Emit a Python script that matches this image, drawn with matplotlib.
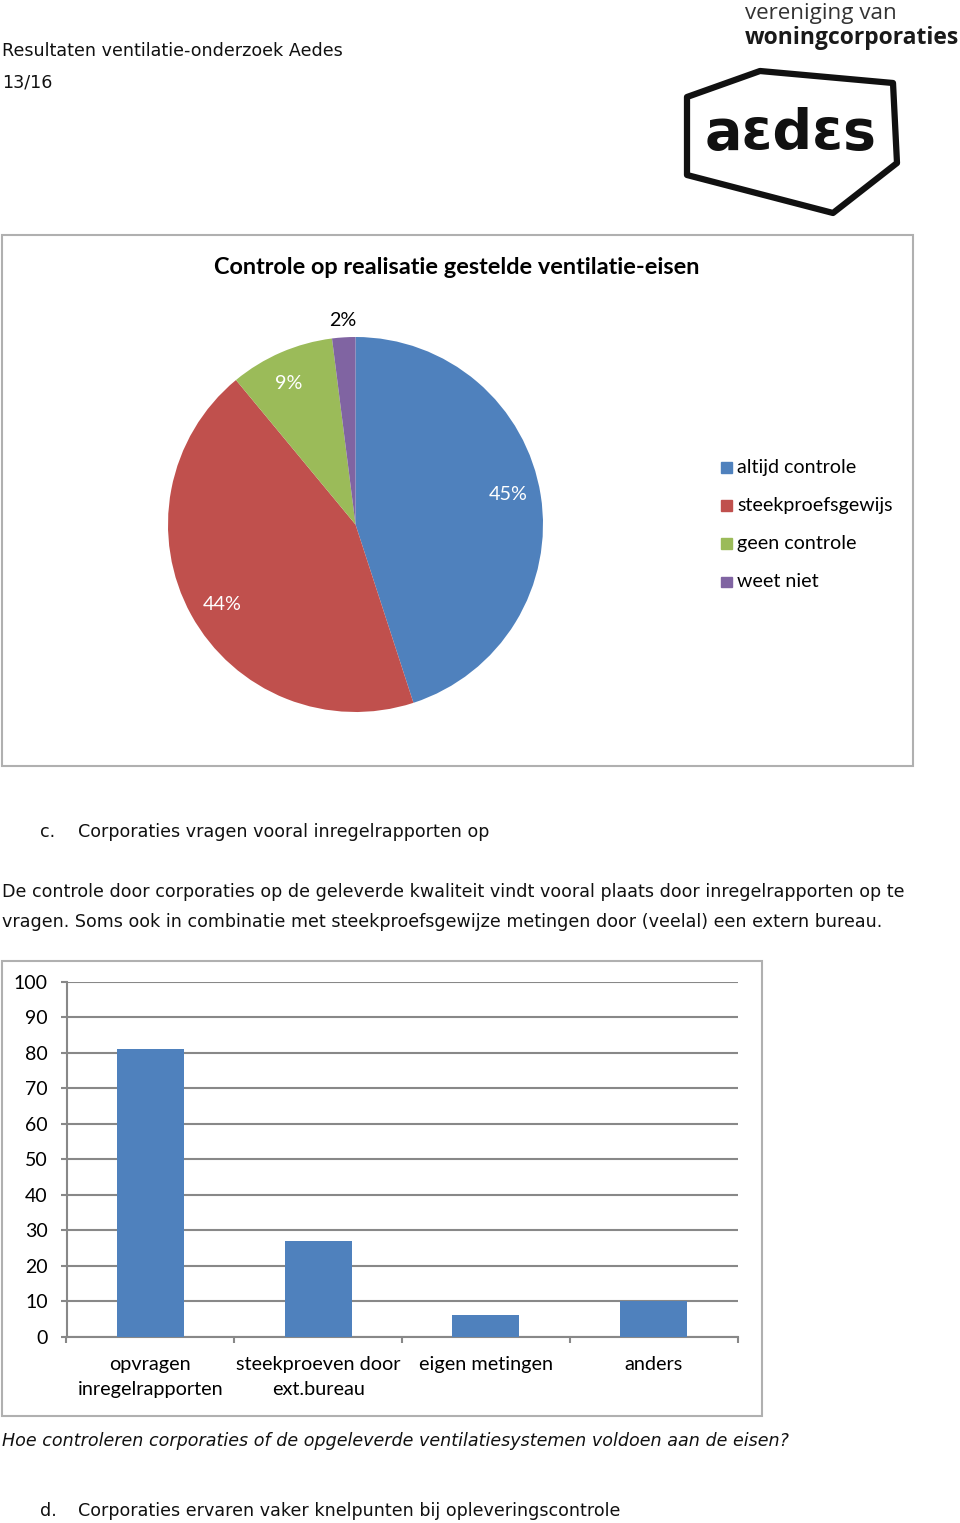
import math
import matplotlib
matplotlib.use("Agg")
import matplotlib.pyplot as plt
from matplotlib.patches import Rectangle, Polygon

# ---------------- data ----------------
pie_labels = ["altijd controle", "steekproefsgewijs", "geen controle", "weet niet"]
pie_values = [45, 44, 9, 2]
pie_colors = ["#4F81BD", "#C0504D", "#9BBB59", "#8064A2"]

bar_categories = ["opvragen\ninregelrapporten", "steekproeven door\next.bureau",
                  "eigen metingen", "anders"]
bar_values = [81, 27, 6, 10]
bar_yticks = [0, 10, 20, 30, 40, 50, 60, 70, 80, 90, 100]

W, H = 960, 1523
fig = plt.figure(figsize=(W / 100, H / 100), dpi=100)
fig.patch.set_facecolor("white")

page = fig.add_axes([0, 0, 1, 1])
page.set_xlim(0, W)
page.set_ylim(H, 0)
page.axis("off")

def rect_px(l, t, r, b):
    return [l / W, (H - b) / H, (r - l) / W, (b - t) / H]

BODY = "DejaVu Sans"
CAL = "Lato"
FS = 12.6
TXT = "#111111"

# header
page.text(2, 50.5, "Resultaten ventilatie-onderzoek Aedes", fontsize=FS, family=BODY,
          va="center", ha="left", color=TXT)
page.text(2, 82.5, "13/16", fontsize=FS, family=BODY, va="center", ha="left", color=TXT)

# logo
page.text(745, 13, "vereniging van", fontsize=16.1, family="Open Sans", va="center",
          ha="left", color="#333333")
page.text(745, 38, "woningcorporaties", fontsize=16.5, family="Open Sans", weight="bold",
          va="center", ha="left", color="#1a1a1a")
page.add_patch(Polygon([(687, 97), (760, 71), (893, 83), (897, 163), (833, 213), (687, 175)],
                       closed=True, fill=False, ec="#111111", lw=4.5, joinstyle="round"))
page.text(791, 134, "aεdεs", fontsize=40, family="DejaVu Sans", weight="bold",
          va="center", ha="center", color="#111111")

# pie box
page.add_patch(Rectangle((1.5, 234.5), 911, 531, fill=False, ec="#b0b0b0", lw=1.5))
page.text(457, 267, "Controle op realisatie gestelde ventilatie-eisen", fontsize=16.9,
          family=CAL, weight="bold", va="center", ha="center", color="black")

cx, cy, R = 355.5, 524.5, 187.5
pax = fig.add_axes(rect_px(cx - R, cy - R, cx + R, cy + R))
wedges, texts, autotexts = pax.pie(pie_values, colors=pie_colors, startangle=90,
                                   counterclock=False, autopct="%d%%", pctdistance=0.83,
                                   wedgeprops=dict(linewidth=0),
                                   textprops=dict(fontsize=14.2, family=CAL, color="white"))
# inside labels sit slightly counter-clockwise of the slice middle in the reference
rot = math.radians(2.0)
for i, t in enumerate(autotexts):
    px, py = t.get_position()
    if i == 3:
        t.set_position((px * 1.09 / 0.83, py * 1.09 / 0.83))
        continue
    t.set_position((px * math.cos(rot) - py * math.sin(rot),
                    px * math.sin(rot) + py * math.cos(rot)))
autotexts[3].set_color("black")
pax.set_xlim(-1, 1)
pax.set_ylim(-1, 1)
pax.set_aspect("equal")

# pie legend
for i, (lab, col) in enumerate(zip(pie_labels, pie_colors)):
    y = 467 + 38.2 * i
    page.add_patch(Rectangle((721, y - 5), 10.5, 10.5, color=col))
    page.text(737, y, lab, fontsize=14.1, family=CAL, va="center", ha="left", color="black")

# text
page.text(40, 831.5, "c.", fontsize=FS, family=BODY, va="center", ha="left", color=TXT)
page.text(78, 831.5, "Corporaties vragen vooral inregelrapporten op", fontsize=FS, family=BODY,
          va="center", ha="left", color=TXT)
page.text(2, 891.5, "De controle door corporaties op de geleverde kwaliteit vindt vooral plaats door inregelrapporten op te",
          fontsize=FS, family=BODY, va="center", ha="left", color=TXT)
page.text(2, 921.5, "vragen. Soms ook in combinatie met steekproefsgewijze metingen door (veelal) een extern bureau.",
          fontsize=FS, family=BODY, va="center", ha="left", color=TXT)

# bar box
page.add_patch(Rectangle((1.5, 960.5), 760, 455, fill=False, ec="#b0b0b0", lw=1.5))

bax = fig.add_axes(rect_px(66.5, 982, 737.5, 1336.5))
x = list(range(len(bar_values)))
bax.bar(x, bar_values, width=0.4, color="#4F81BD", zorder=3)
bax.set_xlim(-0.5, len(bar_values) - 0.5)
bax.set_ylim(0, 100)
bax.set_yticks(bar_yticks)
bax.yaxis.grid(True, color="#888888", lw=1.5, zorder=0)
bax.set_axisbelow(True)
for s in ["top", "right"]:
    bax.spines[s].set_visible(False)
for s in ["left", "bottom"]:
    bax.spines[s].set_color("#888888")
    bax.spines[s].set_linewidth(1.5)
bax.tick_params(axis="y", length=4, color="#888888", width=1.5, labelsize=14, pad=9.5)
bax.set_xticks(x)
bax.set_xticklabels(bar_categories, fontsize=14.3, family=CAL, linespacing=1.55)
bax.tick_params(axis="x", length=0, pad=14)
bax.set_xticks([i - 0.5 for i in range(len(bar_values) + 1)], minor=True)
bax.tick_params(axis="x", which="minor", length=4.5, color="#888888", width=1.5)
for t in bax.get_yticklabels():
    t.set_family(CAL)

page.text(2, 1440.5, "Hoe controleren corporaties of de opgeleverde ventilatiesystemen voldoen aan de eisen?",
          fontsize=FS, family=BODY, style="italic", va="center", ha="left", color=TXT)
page.text(40, 1511.5, "d.", fontsize=FS, family=BODY, va="center", ha="left", color=TXT)
page.text(78, 1511.5, "Corporaties ervaren vaker knelpunten bij opleveringscontrole", fontsize=FS,
          family=BODY, va="center", ha="left", color=TXT)

fig.savefig("out.png", dpi=100, facecolor="white")
